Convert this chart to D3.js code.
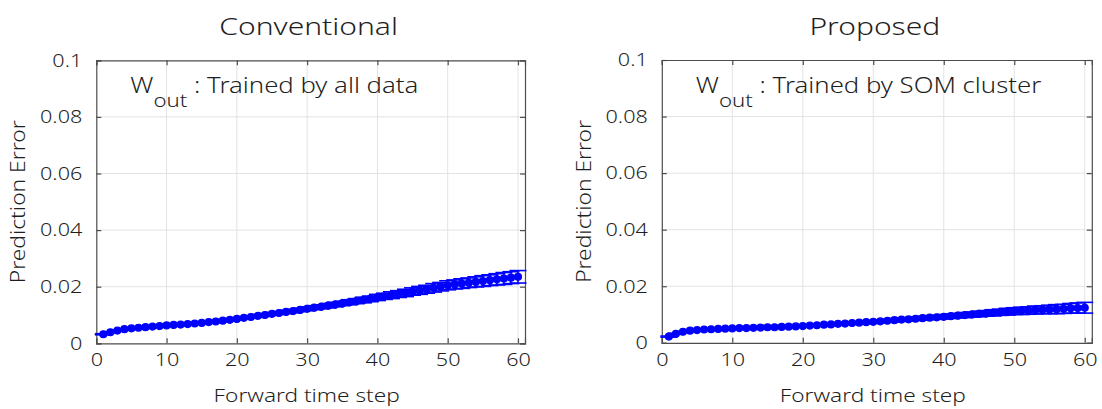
<!DOCTYPE html>
<html>
<head>
<meta charset="utf-8">
<script src="https://cdn.jsdelivr.net/npm/d3@7"></script>
<style>
  html, body { margin: 0; padding: 0; background: #fff; }
  svg text { font-family: "Noto Sans", "DejaVu Sans", sans-serif; font-weight: 350; fill: #1f1f1f; }
</style>
</head>
<body>
<svg id="chart" width="1102" height="409"></svg>
<script>
// Forward time steps 1..60
const steps = [1,2,3,4,5,6,7,8,9,10,11,12,13,14,15,16,17,18,19,20,
  21,22,23,24,25,26,27,28,29,30,31,32,33,34,35,36,37,38,39,40,
  41,42,43,44,45,46,47,48,49,50,51,52,53,54,55,56,57,58,59,60];

// Conventional: W_out trained by all data (mean and error)
const convMean = [0.0032,0.0039,0.0045,0.0050,0.0053,0.0055,0.0057,0.0059,0.0061,0.0063,
  0.0065,0.0066,0.0068,0.0070,0.0072,0.0075,0.0077,0.0080,0.0083,0.0086,
  0.0090,0.0093,0.0097,0.0100,0.0104,0.0107,0.0111,0.0114,0.0118,0.0122,
  0.0126,0.0129,0.0133,0.0137,0.0141,0.0145,0.0149,0.0153,0.0157,0.0162,
  0.0166,0.0170,0.0174,0.0178,0.0183,0.0187,0.0191,0.0196,0.0200,0.0205,
  0.0208,0.0211,0.0214,0.0217,0.0220,0.0223,0.0226,0.0229,0.0232,0.0235];
const convErr = [0.0002,0.0002,0.0002,0.0002,0.0002,0.0002,0.0002,0.0003,0.0003,0.0003,
  0.0003,0.0003,0.0003,0.0003,0.0003,0.0003,0.0004,0.0004,0.0004,0.0004,
  0.0004,0.0004,0.0005,0.0005,0.0005,0.0005,0.0006,0.0006,0.0006,0.0007,
  0.0007,0.0007,0.0008,0.0008,0.0008,0.0009,0.0009,0.0010,0.0010,0.0011,
  0.0011,0.0012,0.0012,0.0013,0.0013,0.0014,0.0014,0.0015,0.0015,0.0016,
  0.0016,0.0017,0.0017,0.0018,0.0019,0.0019,0.0020,0.0021,0.0021,0.0022];

// Proposed: W_out trained by SOM cluster (mean and error)
const propMean = [0.0022,0.0032,0.0039,0.0043,0.0045,0.0047,0.0048,0.0049,0.0050,0.0051,
  0.0052,0.0052,0.0053,0.0054,0.0055,0.0055,0.0056,0.0057,0.0058,0.0059,
  0.0061,0.0062,0.0064,0.0065,0.0067,0.0068,0.0070,0.0071,0.0073,0.0074,
  0.0076,0.0078,0.0080,0.0082,0.0083,0.0085,0.0087,0.0089,0.0090,0.0092,
  0.0094,0.0096,0.0098,0.0100,0.0102,0.0104,0.0106,0.0108,0.0110,0.0112,
  0.0113,0.0114,0.0116,0.0117,0.0118,0.0119,0.0120,0.0122,0.0123,0.0124];
const propErr = [0.0002,0.0002,0.0002,0.0002,0.0002,0.0002,0.0002,0.0002,0.0002,0.0002,
  0.0002,0.0002,0.0002,0.0003,0.0003,0.0003,0.0003,0.0003,0.0003,0.0003,
  0.0003,0.0003,0.0003,0.0004,0.0004,0.0004,0.0004,0.0004,0.0005,0.0005,
  0.0005,0.0005,0.0006,0.0006,0.0006,0.0006,0.0007,0.0007,0.0007,0.0008,
  0.0008,0.0008,0.0009,0.0009,0.0010,0.0010,0.0011,0.0011,0.0012,0.0012,
  0.0013,0.0013,0.0014,0.0014,0.0015,0.0016,0.0016,0.0017,0.0018,0.0019];

const xTicks = [0,10,20,30,40,50,60];
const yTicks = [0,0.02,0.04,0.06,0.08,0.1];
const yTickLabels = ["0","0.02","0.04","0.06","0.08","0.1"];

const panels = [
  { title: "Conventional", note: ": Trained by all data", mean: convMean, err: convErr,
    left: 96.3, right: 525, top: 60.3, bottom: 343.3 },
  { title: "Proposed", note: ": Trained by SOM cluster", mean: propMean, err: propErr,
    left: 661.8, right: 1091.8, top: 60, bottom: 342.8 }
];

const svg = d3.select("#chart");
const blue = "#0000ff";
const fontFamily = '"Noto Sans", "DejaVu Sans", sans-serif';

// Widen glyphs horizontally around each text's own anchor point
function widen(sel, k) {
  sel.each(function () {
    const t = d3.select(this);
    const x = +t.attr("x") || 0, y = +t.attr("y") || 0;
    const prev = t.attr("transform") || "";
    t.attr("x", 0).attr("y", 0)
      .attr("transform", `${prev} translate(${x},${y}) scale(${k},1)`);
  });
}

panels.forEach(p => {
  const x = d3.scaleLinear().domain([0, 61]).range([p.left, p.right]);
  const y = d3.scaleLinear().domain([0, 0.1]).range([p.bottom, p.top]);
  const g = svg.append("g");

  // grid
  g.append("g").selectAll("line").data(xTicks.slice(1)).join("line")
    .attr("x1", d => x(d)).attr("x2", d => x(d))
    .attr("y1", p.top).attr("y2", p.bottom)
    .attr("stroke", "#e3e3e3").attr("stroke-width", 1);
  g.append("g").selectAll("line").data(yTicks.slice(1, -1)).join("line")
    .attr("y1", d => y(d)).attr("y2", d => y(d))
    .attr("x1", p.left).attr("x2", p.right)
    .attr("stroke", "#e3e3e3").attr("stroke-width", 1);

  // axes (ticks pointing inward, box on)
  const fmt = d => yTickLabels[yTicks.indexOf(d)];
  const bottomAxis = g.append("g").attr("transform", `translate(0,${p.bottom})`)
    .call(d3.axisBottom(x).tickValues(xTicks).tickSize(-5).tickPadding(10).tickFormat(d3.format("d")));
  const topAxis = g.append("g").attr("transform", `translate(0,${p.top})`)
    .call(d3.axisTop(x).tickValues(xTicks).tickSize(-5).tickFormat(""));
  const leftAxis = g.append("g").attr("transform", `translate(${p.left},0)`)
    .call(d3.axisLeft(y).tickValues(yTicks).tickSize(-5).tickPadding(14).tickFormat(fmt));
  const rightAxis = g.append("g").attr("transform", `translate(${p.right},0)`)
    .call(d3.axisRight(y).tickValues(yTicks).tickSize(-5).tickFormat(""));
  [bottomAxis, topAxis, leftAxis, rightAxis].forEach(a => {
    a.select(".domain").attr("stroke", "#4d4d4d").attr("stroke-width", 1.2);
    a.selectAll(".tick line").attr("stroke", "#4d4d4d").attr("stroke-width", 1.2);
    a.selectAll("text").attr("font-size", 18).attr("fill", "#1f1f1f")
      .style("font-family", fontFamily).style("font-weight", 350);
  });
  widen(bottomAxis.selectAll("text"), 1.2);
  widen(leftAxis.selectAll("text"), 1.2);

  // error bars
  const capHalf = 8.5;
  const eb = g.append("g").attr("stroke", blue).attr("stroke-width", 1.6).attr("fill", "none");
  steps.forEach((s, i) => {
    const cx = x(s), hi = y(p.mean[i] + p.err[i]), lo = y(p.mean[i] - p.err[i]);
    eb.append("line").attr("x1", cx).attr("x2", cx).attr("y1", hi).attr("y2", lo);
    eb.append("line").attr("x1", cx - capHalf).attr("x2", cx + capHalf).attr("y1", hi).attr("y2", hi);
    eb.append("line").attr("x1", cx - capHalf).attr("x2", cx + capHalf).attr("y1", lo).attr("y2", lo);
  });

  // mean line and markers
  const line = d3.line().x((d, i) => x(steps[i])).y(d => y(d));
  g.append("path").datum(p.mean).attr("d", line)
    .attr("fill", "none").attr("stroke", blue).attr("stroke-width", 1.8);
  g.append("g").selectAll("circle").data(p.mean).join("circle")
    .attr("cx", (d, i) => x(steps[i])).attr("cy", d => y(d)).attr("r", 3.4)
    .attr("fill", blue).attr("stroke", blue).attr("stroke-width", 1.4);

  const cxm = (p.left + p.right) / 2;
  // title
  const title = g.append("text").attr("x", cxm - 2).attr("y", 35).attr("text-anchor", "middle")
    .attr("font-size", 24).text(p.title);
  widen(title, 1.25);
  // axis labels
  const xl = g.append("text").attr("x", cxm - 4).attr("y", 402).attr("text-anchor", "middle")
    .attr("font-size", 19).text("Forward time step");
  widen(xl, 1.19);
  g.append("text").attr("transform", `translate(${p.left - 71},${(p.top + p.bottom) / 2}) rotate(-90) scale(1.14,1)`)
    .attr("text-anchor", "middle").attr("font-size", 20).text("Prediction Error");

  // annotation
  const t = g.append("text").attr("x", p.left + 34).attr("y", 93).attr("font-size", 22);
  t.append("tspan").text("W");
  t.append("tspan").attr("dy", 14).attr("font-size", 19).text("out");
  t.append("tspan").attr("dy", -14).text(" " + p.note);
  widen(t, 1.17);
});
</script>
</body>
</html>
